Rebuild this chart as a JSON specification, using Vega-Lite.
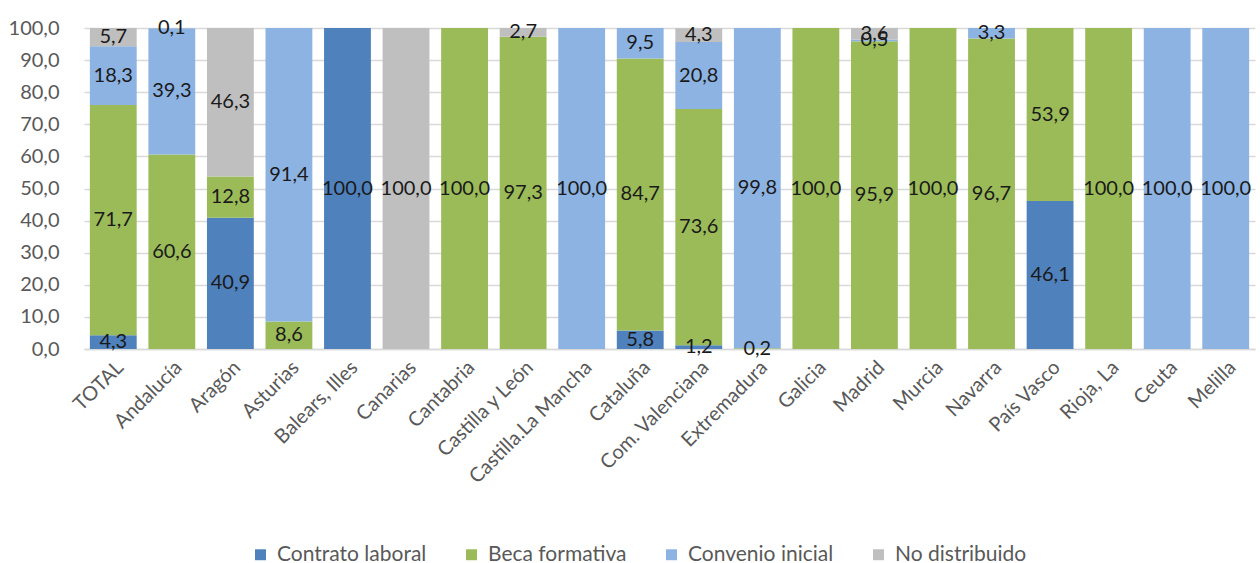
{
  "$schema": "https://vega.github.io/schema/vega-lite/v6.json",
  "width": 1171,
  "height": 321,
  "padding": {"left": 8, "top": 18, "right": 2, "bottom": 5},
  "data": {
    "values": [
      {"region": "TOTAL", "serie": "Contrato laboral", "valor": 4.3},
      {"region": "TOTAL", "serie": "Beca formativa", "valor": 71.7},
      {"region": "TOTAL", "serie": "Convenio inicial", "valor": 18.3},
      {"region": "TOTAL", "serie": "No distribuido", "valor": 5.7},
      {"region": "Andalucía", "serie": "Contrato laboral", "valor": 0},
      {"region": "Andalucía", "serie": "Beca formativa", "valor": 60.6},
      {"region": "Andalucía", "serie": "Convenio inicial", "valor": 39.3},
      {"region": "Andalucía", "serie": "No distribuido", "valor": 0.1},
      {"region": "Aragón", "serie": "Contrato laboral", "valor": 40.9},
      {"region": "Aragón", "serie": "Beca formativa", "valor": 12.8},
      {"region": "Aragón", "serie": "Convenio inicial", "valor": 0},
      {"region": "Aragón", "serie": "No distribuido", "valor": 46.3},
      {"region": "Asturias", "serie": "Contrato laboral", "valor": 0},
      {"region": "Asturias", "serie": "Beca formativa", "valor": 8.6},
      {"region": "Asturias", "serie": "Convenio inicial", "valor": 91.4},
      {"region": "Asturias", "serie": "No distribuido", "valor": 0},
      {"region": "Balears, Illes", "serie": "Contrato laboral", "valor": 100},
      {"region": "Balears, Illes", "serie": "Beca formativa", "valor": 0},
      {"region": "Balears, Illes", "serie": "Convenio inicial", "valor": 0},
      {"region": "Balears, Illes", "serie": "No distribuido", "valor": 0},
      {"region": "Canarias", "serie": "Contrato laboral", "valor": 0},
      {"region": "Canarias", "serie": "Beca formativa", "valor": 0},
      {"region": "Canarias", "serie": "Convenio inicial", "valor": 0},
      {"region": "Canarias", "serie": "No distribuido", "valor": 100},
      {"region": "Cantabria", "serie": "Contrato laboral", "valor": 0},
      {"region": "Cantabria", "serie": "Beca formativa", "valor": 100},
      {"region": "Cantabria", "serie": "Convenio inicial", "valor": 0},
      {"region": "Cantabria", "serie": "No distribuido", "valor": 0},
      {"region": "Castilla y León", "serie": "Contrato laboral", "valor": 0},
      {"region": "Castilla y León", "serie": "Beca formativa", "valor": 97.3},
      {"region": "Castilla y León", "serie": "Convenio inicial", "valor": 0},
      {"region": "Castilla y León", "serie": "No distribuido", "valor": 2.7},
      {"region": "Castilla.La Mancha", "serie": "Contrato laboral", "valor": 0},
      {"region": "Castilla.La Mancha", "serie": "Beca formativa", "valor": 0},
      {"region": "Castilla.La Mancha", "serie": "Convenio inicial", "valor": 100},
      {"region": "Castilla.La Mancha", "serie": "No distribuido", "valor": 0},
      {"region": "Cataluña", "serie": "Contrato laboral", "valor": 5.8},
      {"region": "Cataluña", "serie": "Beca formativa", "valor": 84.7},
      {"region": "Cataluña", "serie": "Convenio inicial", "valor": 9.5},
      {"region": "Cataluña", "serie": "No distribuido", "valor": 0},
      {"region": "Com. Valenciana", "serie": "Contrato laboral", "valor": 1.2},
      {"region": "Com. Valenciana", "serie": "Beca formativa", "valor": 73.6},
      {"region": "Com. Valenciana", "serie": "Convenio inicial", "valor": 20.8},
      {"region": "Com. Valenciana", "serie": "No distribuido", "valor": 4.3},
      {"region": "Extremadura", "serie": "Contrato laboral", "valor": 0},
      {"region": "Extremadura", "serie": "Beca formativa", "valor": 0.2},
      {"region": "Extremadura", "serie": "Convenio inicial", "valor": 99.8},
      {"region": "Extremadura", "serie": "No distribuido", "valor": 0},
      {"region": "Galicia", "serie": "Contrato laboral", "valor": 0},
      {"region": "Galicia", "serie": "Beca formativa", "valor": 100},
      {"region": "Galicia", "serie": "Convenio inicial", "valor": 0},
      {"region": "Galicia", "serie": "No distribuido", "valor": 0},
      {"region": "Madrid", "serie": "Contrato laboral", "valor": 0},
      {"region": "Madrid", "serie": "Beca formativa", "valor": 95.9},
      {"region": "Madrid", "serie": "Convenio inicial", "valor": 0.5},
      {"region": "Madrid", "serie": "No distribuido", "valor": 3.6},
      {"region": "Murcia", "serie": "Contrato laboral", "valor": 0},
      {"region": "Murcia", "serie": "Beca formativa", "valor": 100},
      {"region": "Murcia", "serie": "Convenio inicial", "valor": 0},
      {"region": "Murcia", "serie": "No distribuido", "valor": 0},
      {"region": "Navarra", "serie": "Contrato laboral", "valor": 0},
      {"region": "Navarra", "serie": "Beca formativa", "valor": 96.7},
      {"region": "Navarra", "serie": "Convenio inicial", "valor": 3.3},
      {"region": "Navarra", "serie": "No distribuido", "valor": 0},
      {"region": "País Vasco", "serie": "Contrato laboral", "valor": 46.1},
      {"region": "País Vasco", "serie": "Beca formativa", "valor": 53.9},
      {"region": "País Vasco", "serie": "Convenio inicial", "valor": 0},
      {"region": "País Vasco", "serie": "No distribuido", "valor": 0},
      {"region": "Rioja, La", "serie": "Contrato laboral", "valor": 0},
      {"region": "Rioja, La", "serie": "Beca formativa", "valor": 100},
      {"region": "Rioja, La", "serie": "Convenio inicial", "valor": 0},
      {"region": "Rioja, La", "serie": "No distribuido", "valor": 0},
      {"region": "Ceuta", "serie": "Contrato laboral", "valor": 0},
      {"region": "Ceuta", "serie": "Beca formativa", "valor": 0},
      {"region": "Ceuta", "serie": "Convenio inicial", "valor": 100},
      {"region": "Ceuta", "serie": "No distribuido", "valor": 0},
      {"region": "Melilla", "serie": "Contrato laboral", "valor": 0},
      {"region": "Melilla", "serie": "Beca formativa", "valor": 0},
      {"region": "Melilla", "serie": "Convenio inicial", "valor": 100},
      {"region": "Melilla", "serie": "No distribuido", "valor": 0}
    ]
  },
  "transform": [
    {"calculate": "indexof(['Contrato laboral', 'Beca formativa', 'Convenio inicial', 'No distribuido'], datum.serie)", "as": "orden"},
    {"stack": "valor", "groupby": ["region"], "sort": [{"field": "orden", "order": "ascending"}], "as": ["y0", "y1"]},
    {"calculate": "(datum.y0 + datum.y1) / 2", "as": "medio"}
  ],
  "encoding": {
    "x": {
      "field": "region",
      "type": "nominal",
      "sort": null,
      "title": null,
      "scale": {"paddingInner": 0.2, "paddingOuter": 0.1},
      "axis": {
        "labelAngle": -45,
        "labelFontSize": 20,
        "labelColor": "#595959",
        "labelPadding": 8,
        "ticks": false,
        "domainColor": "#d9d9d9",
        "domainWidth": 1.5
      }
    }
  },
  "layer": [
    {
      "mark": {"type": "bar"},
      "encoding": {
        "y": {
          "field": "y0",
          "type": "quantitative",
          "title": null,
          "scale": {"domain": [0, 100]},
          "axis": {"values": [0, 10, 20, 30, 40, 50, 60, 70, 80, 90, 100], "format": ".1f"}
        },
        "y2": {"field": "y1"},
        "color": {
          "field": "serie",
          "type": "nominal",
          "title": null,
          "scale": {
            "domain": ["Contrato laboral", "Beca formativa", "Convenio inicial", "No distribuido"],
            "range": ["#4f81bd", "#9bbb59", "#8db3e2", "#bfbfbf"]
          },
          "legend": {
            "orient": "none",
            "legendX": 166,
            "legendY": 516,
            "direction": "horizontal",
            "symbolType": "square",
            "symbolSize": 120,
            "symbolStrokeWidth": 0,
            "labelFontSize": 21,
            "labelColor": "#595959",
            "labelOffset": 6,
            "columnPadding": 34
          }
        }
      }
    },
    {
      "transform": [{"filter": "datum.valor > 0"}],
      "mark": {"type": "text", "fontSize": 20, "color": "#1a1a1a", "baseline": "middle"},
      "encoding": {
        "y": {
          "field": "medio",
          "type": "quantitative",
          "axis": {"values": [0, 10, 20, 30, 40, 50, 60, 70, 80, 90, 100], "format": ".1f"}
        },
        "text": {"field": "valor", "type": "quantitative", "format": ".1f"}
      }
    }
  ],
  "config": {
    "font": "Lato",
    "view": {"stroke": null},
    "axisY": {
      "labelFontSize": 20,
      "labelColor": "#595959",
      "labelPadding": 25,
      "labelOverlap": false,
      "ticks": false,
      "domain": false,
      "gridColor": "#d9d9d9",
      "gridWidth": 1.5
    },
    "locale": {
      "number": {"decimal": ",", "thousands": ".", "grouping": [3], "currency": ["", " €"]}
    }
  }
}
